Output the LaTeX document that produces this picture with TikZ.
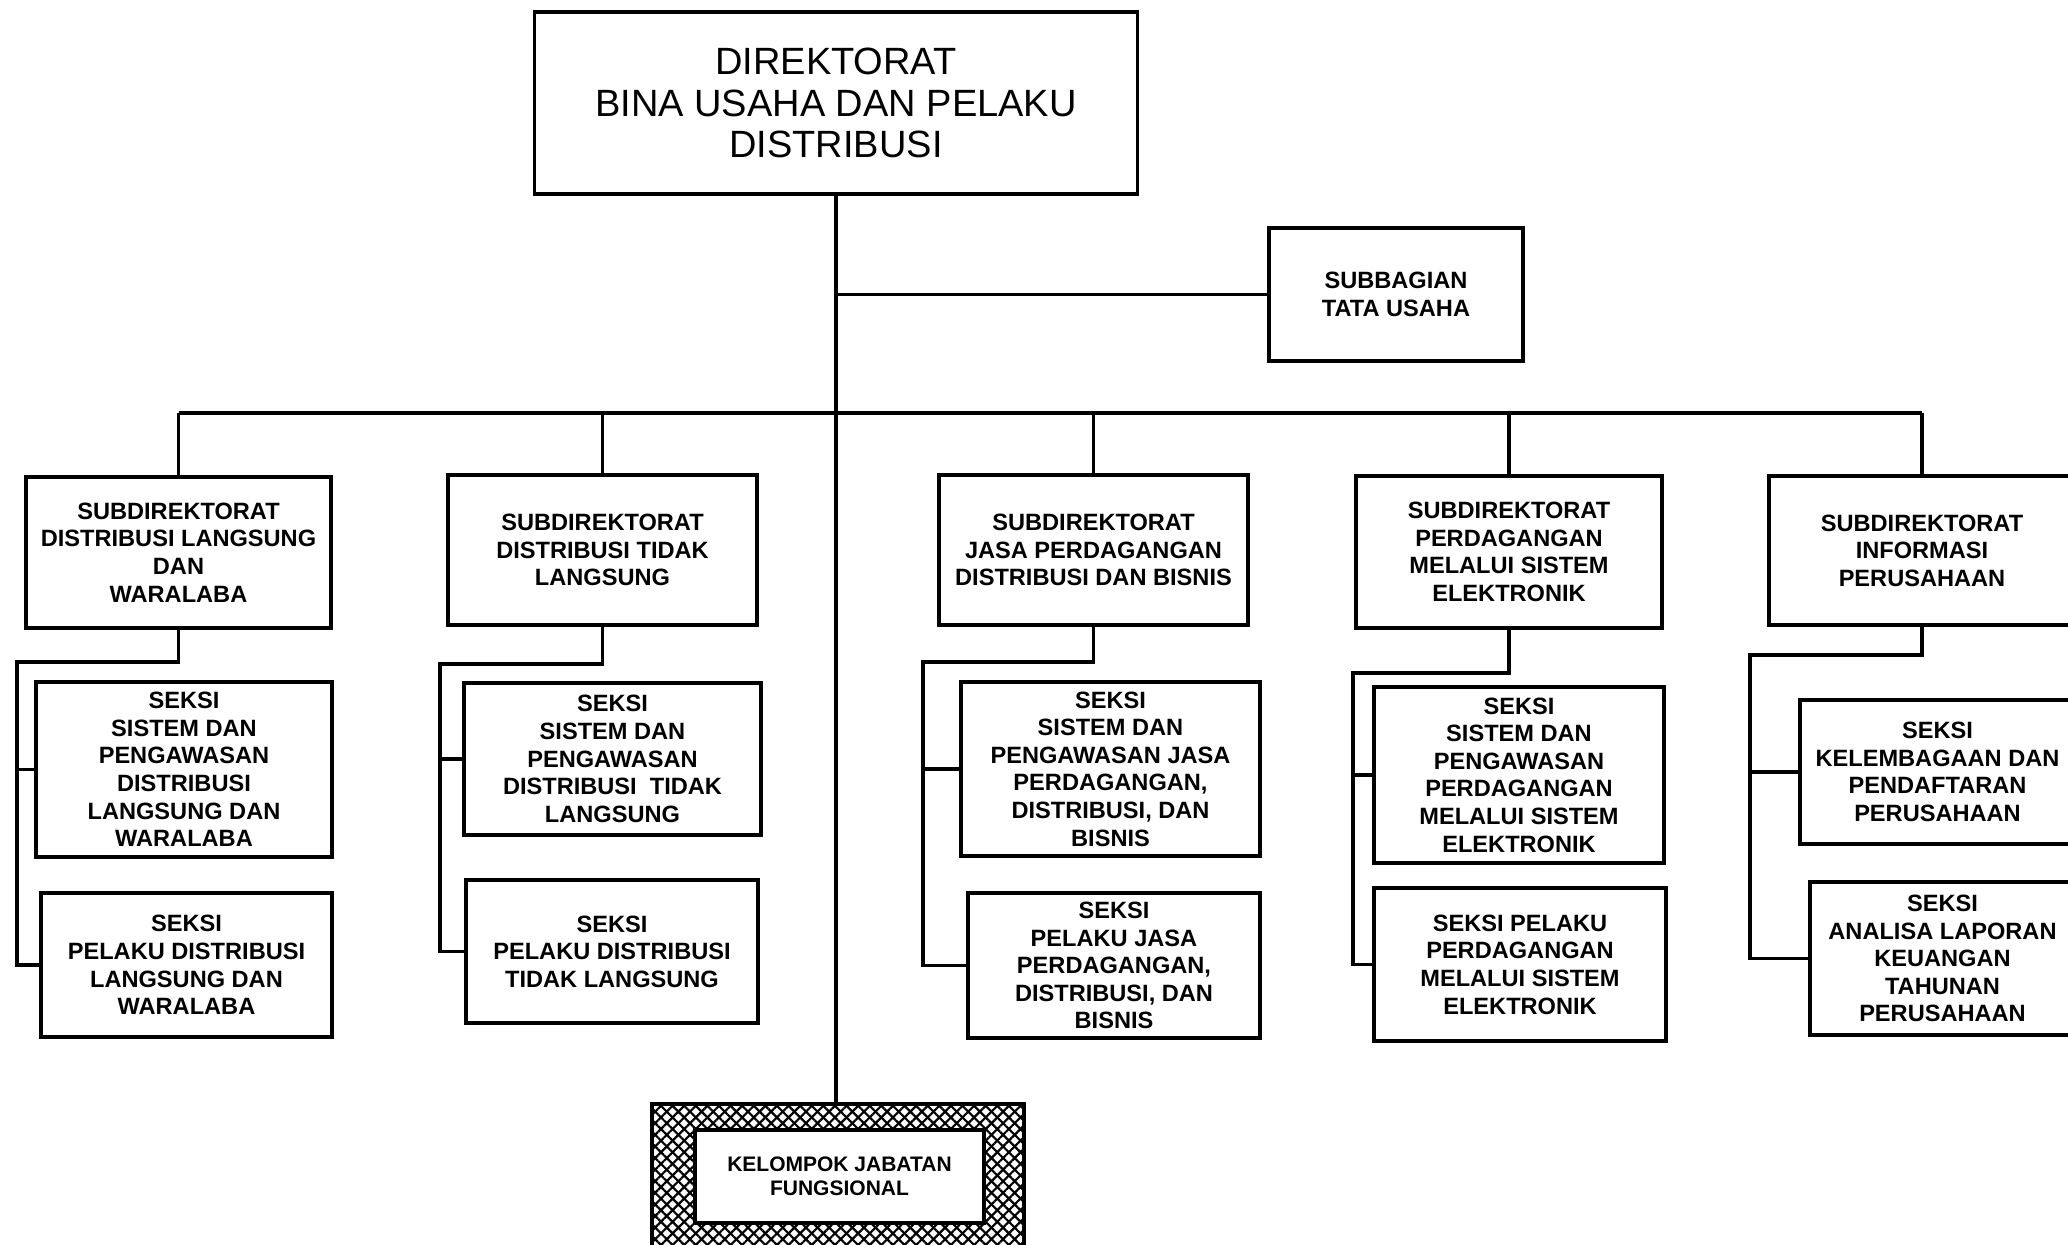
\documentclass[tikz,border=0pt]{standalone}
\usepackage{fontspec}
\setmainfont{Liberation Sans}
\usetikzlibrary{patterns.meta}
\begin{document}
\begin{tikzpicture}[x=0.5pt,y=-0.5pt,
  box/.style={draw, line width=1.8pt, align=center, inner sep=0pt, fill=white,
    font=\fontsize{11.8}{13.8}\selectfont\bfseries},
  conn/.style={line width=1.6pt}]
\path[use as bounding box] (0,0) rectangle (2068,1245);
\clip (0,0) rectangle (2068,1245);

% top
\node[box, minimum width=301.5pt, minimum height=91pt,
  font=\fontsize{19}{20.75}\selectfont] (top) at (836,103)
  {DIREKTORAT\\BINA USAHA DAN PELAKU\\DISTRIBUSI};
\node[box, minimum width=127pt, minimum height=66.5pt] (sub) at (1396,294.5)
  {SUBBAGIAN\\TATA USAHA};

% subdirektorat
\node[box, minimum width=152.5pt, minimum height=75.5pt] (s1) at (178.5,552.5)
  {SUBDIREKTORAT\\DISTRIBUSI LANGSUNG\\DAN\\WARALABA};
\node[box, minimum width=154.5pt, minimum height=75pt] (s2) at (602.5,550)
  {SUBDIREKTORAT\\DISTRIBUSI TIDAK\\LANGSUNG};
\node[box, minimum width=154.5pt, minimum height=75pt] (s3) at (1093.5,550)
  {SUBDIREKTORAT\\JASA PERDAGANGAN\\DISTRIBUSI DAN BISNIS};
\node[box, minimum width=153pt, minimum height=76pt] (s4) at (1509,552)
  {SUBDIREKTORAT\\PERDAGANGAN\\MELALUI SISTEM\\ELEKTRONIK};
\node[box, minimum width=153pt, minimum height=74.5pt] (s5) at (1922,550.5)
  {SUBDIREKTORAT\\INFORMASI\\PERUSAHAAN};

% seksi
\node[box, minimum width=148pt, minimum height=87.5pt] (s1a) at (184,769.5)
  {SEKSI\\SISTEM DAN\\PENGAWASAN\\DISTRIBUSI\\LANGSUNG DAN\\WARALABA};
\node[box, minimum width=145.5pt, minimum height=72pt] (s1b) at (186.5,965)
  {SEKSI\\PELAKU DISTRIBUSI\\LANGSUNG DAN\\WARALABA};
\node[box, minimum width=148.5pt, minimum height=76pt] (s2a) at (612.5,759)
  {SEKSI\\SISTEM DAN\\PENGAWASAN\\DISTRIBUSI\ \ TIDAK\\LANGSUNG};
\node[box, minimum width=146pt, minimum height=71.5pt] (s2b) at (612,951.5)
  {SEKSI\\PELAKU DISTRIBUSI\\TIDAK LANGSUNG};
\node[box, minimum width=149.5pt, minimum height=87pt] (s3a) at (1110.5,769)
  {SEKSI\\SISTEM DAN\\PENGAWASAN JASA\\PERDAGANGAN,\\DISTRIBUSI, DAN\\BISNIS};
\node[box, minimum width=146pt, minimum height=72.5pt] (s3b) at (1114,965.5)
  {SEKSI\\PELAKU JASA\\PERDAGANGAN,\\DISTRIBUSI, DAN\\BISNIS};
\node[box, minimum width=145pt, minimum height=88pt] (s4a) at (1519,775)
  {SEKSI\\SISTEM DAN\\PENGAWASAN\\PERDAGANGAN\\MELALUI SISTEM\\ELEKTRONIK};
\node[box, minimum width=146pt, minimum height=76.5pt] (s4b) at (1520,964.5)
  {SEKSI PELAKU\\PERDAGANGAN\\MELALUI SISTEM\\ELEKTRONIK};
\node[box, minimum width=137.5pt, minimum height=72pt] (s5a) at (1937.5,772)
  {SEKSI\\KELEMBAGAAN DAN\\PENDAFTARAN\\PERUSAHAAN};
\node[box, minimum width=132.5pt, minimum height=76.5pt] (s5b) at (1942.5,958.5)
  {SEKSI\\ANALISA LAPORAN\\KEUANGAN\\TAHUNAN\\PERUSAHAAN};

% kelompok jabatan fungsional
\node[minimum width=185pt, minimum height=77.5pt, inner sep=0pt,
  pattern={Lines[angle=45,distance=4.1pt,line width=1.1pt]}] (kelo) at (838,1182.5) {};
\path[pattern={Lines[angle=-45,distance=4.1pt,line width=1.1pt]}]
  (kelo.south west) rectangle (kelo.north east);
\draw[line width=1.8pt] (kelo.south west) rectangle (kelo.north east);
\node[box, minimum width=144.5pt, minimum height=46.5pt,
  font=\fontsize{10.5}{11.9}\selectfont\bfseries] (kel) at (839.5,1176.5)
  {KELOMPOK JABATAN\\FUNGSIONAL};

% connectors
\coordinate (bus) at (836,413);
\draw[conn] (top.south) -- (top.south |- kelo.north);
\draw[conn] (top.south |- sub.west) -- (sub.west);
\draw[conn] (s1.north |- bus) -- (s5.north |- bus);
\foreach \s in {s1,s2,s3,s4,s5} \draw[conn] (\s.north |- bus) -- (\s.north);

\coordinate (b1) at (17,662);
\coordinate (b2) at (440,664);
\coordinate (b3) at (923,662);
\coordinate (b4) at (1353,673);
\coordinate (b5) at (1750,655);
\draw[conn] (s1.south) |- (b1) -- (b1 |- s1b.west) -- (s1b.west);
\draw[conn] (b1 |- s1a.west) -- (s1a.west);
\draw[conn] (s2.south) |- (b2) -- (b2 |- s2b.west) -- (s2b.west);
\draw[conn] (b2 |- s2a.west) -- (s2a.west);
\draw[conn] (s3.south) |- (b3) -- (b3 |- s3b.west) -- (s3b.west);
\draw[conn] (b3 |- s3a.west) -- (s3a.west);
\draw[conn] (s4.south) |- (b4) -- (b4 |- s4b.west) -- (s4b.west);
\draw[conn] (b4 |- s4a.west) -- (s4a.west);
\draw[conn] (s5.south) |- (b5) -- (b5 |- s5b.west) -- (s5b.west);
\draw[conn] (b5 |- s5a.west) -- (s5a.west);
\end{tikzpicture}
\end{document}
